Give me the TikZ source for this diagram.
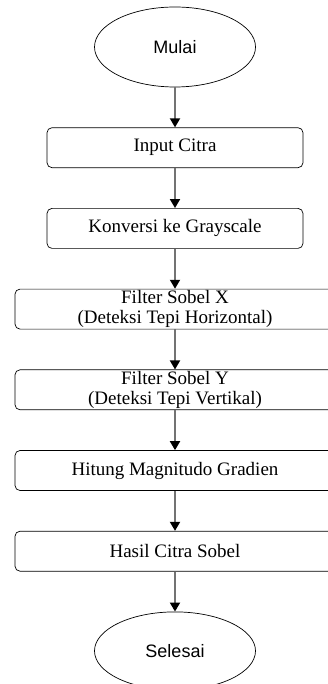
\documentclass[tikz,border=0pt]{standalone}
\usepackage{fontspec}
\setmainfont{Liberation Serif}
\setsansfont{Liberation Sans}
\usetikzlibrary{
	arrows.meta,
	positioning,
	shapes.geometric
}

\begin{document}
\begin{tikzpicture}[
		terminal/.style={draw, ellipse, line width=0.7pt, minimum width=161pt, minimum height=80pt, inner sep=0pt, font=\sffamily\fontsize{18}{20}\selectfont},
		box/.style={draw, rounded corners=5pt, line width=0.7pt, minimum width=256pt, minimum height=40pt, inner sep=1pt, align=center, font=\fontsize{19}{20}\selectfont},
		widebox/.style={box, minimum width=320pt},
		arrow/.style={-{Triangle[width=10pt,length=9pt,color=black]}, line width=1.8pt, draw=black!55}
		]
		
		\useasboundingbox (0,0) rectangle (328pt,-684pt);
		\clip (0,0) rectangle (328pt,-684pt);
		
		\node[terminal] (mulai) at (175pt,-47pt) {Mulai};
		
		\node[box, below=40pt of mulai] (input) {Input Citra};
		
		\node[box, below=40pt of input] (gray) {Konversi ke Grayscale};
		
		\node[widebox, below=40pt of gray] (sobelx) {
			Filter Sobel X\\
			(Deteksi Tepi Horizontal)
		};
		
		\node[widebox, below=40pt of sobelx] (sobely) {
			Filter Sobel Y\\
			(Deteksi Tepi Vertikal)
		};
		
		\node[widebox, below=40pt of sobely] (magnitudo) {Hitung Magnitudo Gradien};
		
		\node[widebox, below=40pt of magnitudo] (hasil) {Hasil Citra Sobel};
		
		\node[terminal, below=40pt of hasil, minimum height=78pt] (selesai) {Selesai};
		
		\draw[arrow] (mulai) -- (input);
		\draw[arrow] (input) -- (gray);
		\draw[arrow] (gray) -- (sobelx);
		\draw[arrow] (sobelx) -- (sobely);
		\draw[arrow] (sobely) -- (magnitudo);
		\draw[arrow] (magnitudo) -- (hasil);
		\draw[arrow] (hasil) -- (selesai);
		
	\end{tikzpicture}
\end{document}
